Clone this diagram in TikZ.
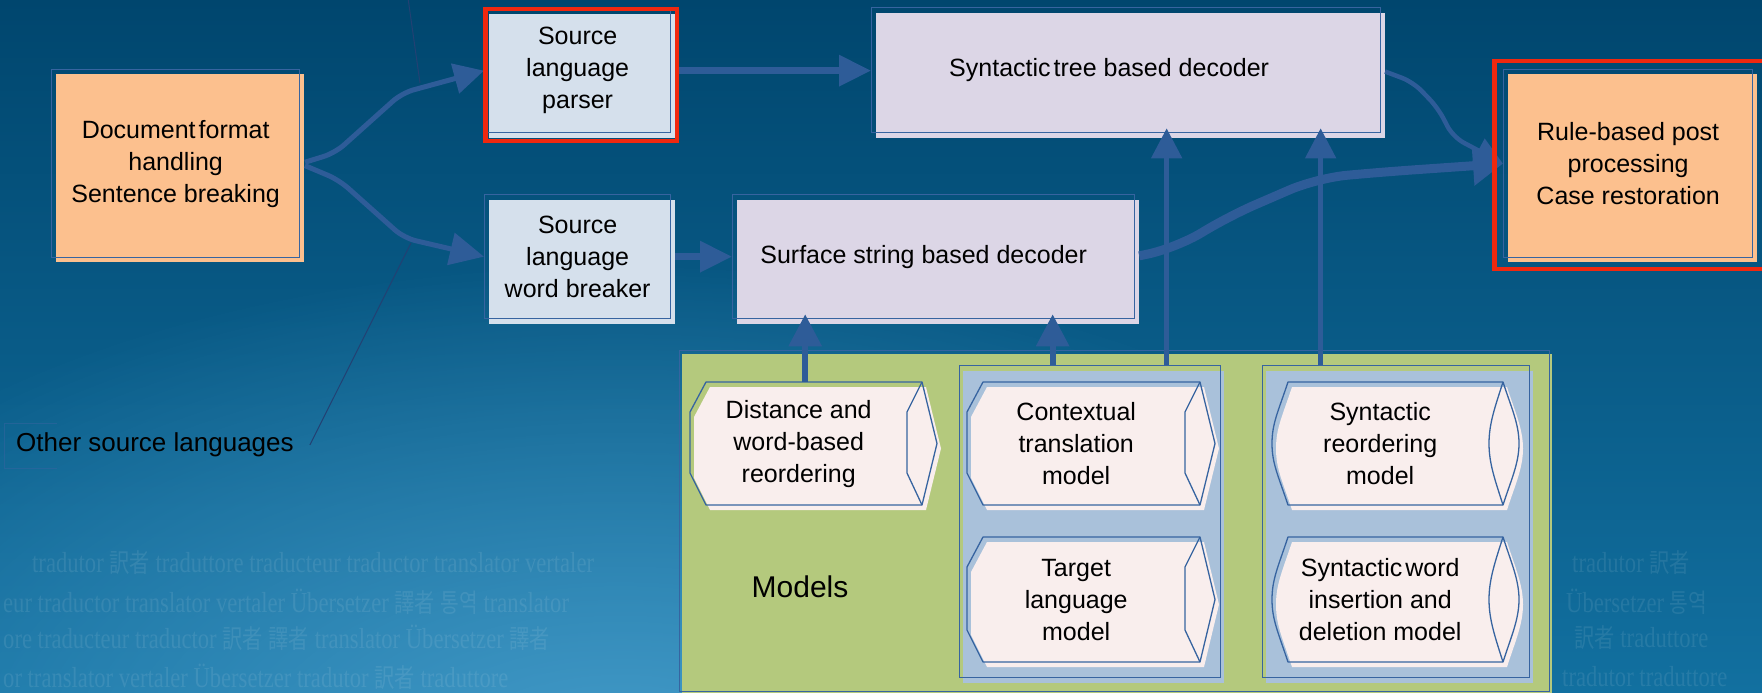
\documentclass[tikz,border=0pt]{standalone}
\usepackage{fontspec}
\setmainfont{Liberation Sans}
\newfontfamily\wmfont{Liberation Serif}
\newfontfamily\cjkfont{Noto Sans CJK JP}
\usetikzlibrary{arrows.meta,shadows,fadings}

\definecolor{bgtop}{RGB}{0,70,110}
\definecolor{bgbot}{RGB}{18,112,160}
\definecolor{glow}{RGB}{80,165,210}
\definecolor{peach}{RGB}{252,192,142}
\definecolor{lblue}{RGB}{213,224,236}
\definecolor{lilac}{RGB}{220,214,230}
\definecolor{pinkw}{RGB}{249,238,237}
\definecolor{mgreen}{RGB}{180,201,125}
\definecolor{sblue}{RGB}{169,193,218}
\definecolor{edge}{RGB}{55,100,160}
\definecolor{redf}{RGB}{240,40,15}
\definecolor{arr}{RGB}{46,92,152}
\definecolor{thinl}{RGB}{35,65,115}

\tikzfading[name=glowfade, inner color=transparent!0, outer color=transparent!100]

\newcommand\bfnt{\fontsize{25}{32}\selectfont}
\newcommand\wmt{\wmfont\fontsize{29}{34}\selectfont}
\newcommand\cj[1]{{\cjkfont\fontsize{26}{34}\selectfont #1}}

\tikzset{
  box/.style={draw=edge, line width=1.3pt, inner sep=0pt, anchor=north west, align=center, font=\bfnt},
  modeltext/.style={inner sep=0pt, anchor=north west, align=center, font=\bfnt},
  modeledge/.style={draw=edge, line width=1.3pt, line join=round},
  flow/.style={draw=arr, line join=round, rounded corners=18pt},
  redframe/.style={draw=redf, line width=4.5pt},
  thinline/.style={draw=thinl, line width=1pt},
  wm/.style={inner sep=0pt, anchor=west, text=white, text opacity=0.09, font=\wmt},
}

% polygon-type model shape: name x1 y1 x2 y2 text
\newcommand\mpoly[6]{%
  \pgfmathsetmacro\mA{#2}\pgfmathsetmacro\mB{#3}\pgfmathsetmacro\mC{#4}\pgfmathsetmacro\mD{#5}\pgfmathsetmacro\mM{(#3+#5)/2}%
  \begin{scope}[shift={(4,5)}]
    \fill[pinkw] (\mA,\mB) -- (\mC,\mB) -- (\mC+15,\mM) -- (\mC,\mD) -- (\mA,\mD) -- (\mA-16,\mD-32) -- (\mA-16,\mB+30) -- cycle;
  \end{scope}
  \draw[modeledge] (\mA,\mB) -- (\mC,\mB) -- (\mC+15,\mM) -- (\mC,\mD) -- (\mA,\mD) -- (\mA-16,\mD-32) -- (\mA-16,\mB+30) -- cycle;
  \draw[modeledge] (\mC,\mB) -- (\mC-15,\mB+30) -- (\mC-15,\mD-32) -- (\mC,\mD);
  \node[modeltext, minimum width=\mC-\mA+1, minimum height=\mD-\mB] (#1) at (\mA-16,\mB) {#6};
}
% curved-type model shape
\newcommand\mcurve[6]{%
  \pgfmathsetmacro\mA{#2}\pgfmathsetmacro\mB{#3}\pgfmathsetmacro\mC{#4}\pgfmathsetmacro\mD{#5}\pgfmathsetmacro\mM{(#3+#5)/2}%
  \begin{scope}[shift={(4,5)}]
    \fill[pinkw] (\mA,\mB) -- (\mC,\mB) .. controls (\mC+8,\mB+25) and (\mC+16,\mM-20) .. (\mC+16,\mM) .. controls (\mC+16,\mM+20) and (\mC+8,\mD-25) .. (\mC,\mD) -- (\mA,\mD) .. controls (\mA-10,\mD-30) and (\mA-16,\mM+20) .. (\mA-16,\mM) .. controls (\mA-16,\mM-20) and (\mA-10,\mB+30) .. (\mA,\mB) -- cycle;
  \end{scope}
  \draw[modeledge] (\mA,\mB) -- (\mC,\mB) .. controls (\mC+8,\mB+25) and (\mC+16,\mM-20) .. (\mC+16,\mM) .. controls (\mC+16,\mM+20) and (\mC+8,\mD-25) .. (\mC,\mD) -- (\mA,\mD) .. controls (\mA-10,\mD-30) and (\mA-16,\mM+20) .. (\mA-16,\mM) .. controls (\mA-16,\mM-20) and (\mA-10,\mB+30) .. (\mA,\mB) -- cycle;
  \draw[modeledge] (\mC,\mB) .. controls (\mC-8,\mB+25) and (\mC-14,\mM-20) .. (\mC-14,\mM) .. controls (\mC-14,\mM+20) and (\mC-8,\mD-25) .. (\mC,\mD);
  \node[modeltext, minimum width=\mC-\mA+1, minimum height=\mD-\mB] (#1) at (\mA-16,\mB) {#6};
}

\begin{document}
\begin{tikzpicture}[x=1pt,y=-1pt]
\useasboundingbox (0,0) rectangle (1762,693);
\clip (0,0) rectangle (1762,693);

% background
\shade[top color=bgtop, bottom color=bgbot] (0,0) rectangle (1762,693);
\fill[glow, opacity=0.8, path fading=glowfade] (620,760) ellipse [x radius=950, y radius=500];

% watermark
\node[wm] (wm1l) at (32,563) {\scalebox{0.78}[1]{tradutor \cj{訳者} traduttore traducteur traductor translator vertaler}};
\node[wm] (wm2l) at (3,602) {\scalebox{0.78}[1]{eur traductor translator vertaler Übersetzer \cj{譯者} \cj{통역} translator}};
\node[wm] (wm3l) at (3,638) {\scalebox{0.78}[1]{ore traducteur traductor \cj{訳者} \cj{譯者} translator Übersetzer \cj{譯者}}};
\node[wm] (wm4l) at (3,677) {\scalebox{0.78}[1]{or translator vertaler Übersetzer tradutor \cj{訳者} traduttore}};
\node[wm] (wm1r) at (1572,563) {\scalebox{0.78}[1]{tradutor \cj{訳者}}};
\node[wm] (wm2r) at (1566,602) {\scalebox{0.78}[1]{Übersetzer \cj{통역}}};
\node[wm] (wm3r) at (1574,638) {\scalebox{0.78}[1]{\cj{訳者} traduttore}};
\node[wm] (wm4r) at (1562,677) {\scalebox{0.78}[1]{tradutor traduttore}};

% models area
\node[box, general shadow={fill=mgreen, shadow xshift=2.5pt, shadow yshift=-3pt}, minimum width=870, minimum height=341] (models) at (679,350) {};
\node[box, general shadow={fill=sblue, shadow xshift=3.5pt, shadow yshift=-5pt}, minimum width=261, minimum height=312] (sub1) at (959,365) {};
\node[box, general shadow={fill=sblue, shadow xshift=3.5pt, shadow yshift=-5pt}, minimum width=267, minimum height=312] (sub2) at (1262,365) {};
\node[inner sep=0pt, font=\fontsize{30}{36}\selectfont] (modelslabel) at (800,587) {Models};

\mpoly{dist}{706}{382}{922}{505}{Distance and\\word-based\\reordering}
\mpoly{ctx}{983}{382}{1200}{505}{Contextual\\translation\\model}
\mpoly{tgt}{983}{537}{1200}{662}{Target\\language\\model}
\mcurve{synr}{1288}{382}{1503}{505}{Syntactic\\reordering\\model}
\mcurve{synw}{1288}{537}{1503}{662}{Syntactic\hspace{0.12em}word\\insertion and\\deletion model}

% top boxes
\node[box, general shadow={fill=peach, shadow xshift=4.5pt, shadow yshift=-4.5pt}, minimum width=248, minimum height=188] (doc) at (51,69) {Document\hspace{0.12em}format\\handling\\Sentence breaking};
\node[box, general shadow={fill=lblue, shadow xshift=4pt, shadow yshift=-5pt}, minimum width=186, minimum height=124] (parser) at (484,8) {Source\\language\\parser};
\node[box, general shadow={fill=lblue, shadow xshift=4pt, shadow yshift=-5pt}, minimum width=186, minimum height=124] (breaker) at (484,194) {Source\\language\\word breaker};
\node[box, general shadow={fill=lilac, shadow xshift=4pt, shadow yshift=-5pt}, minimum width=509, minimum height=125] (tree) at (871,7) {Syntactic\hspace{0.12em}tree based decoder\hspace*{34pt}};
\node[box, general shadow={fill=lilac, shadow xshift=4.5pt, shadow yshift=-5pt}, minimum width=402, minimum height=124] (surf) at (732,194) {Surface string based decoder\hspace*{20pt}};
\node[box, general shadow={fill=peach, shadow xshift=4pt, shadow yshift=-4.5pt}, minimum width=249, minimum height=188] (post) at (1503,69) {Rule-based post\\processing\\Case restoration};

\node[inner sep=0pt, anchor=west, font=\fontsize{26}{32}\selectfont] (other) at (16,445) {Other source languages};
\draw[draw=edge, opacity=0.5, line width=1pt] (57,423) -- (4,423) -- (4,468) -- (57,468);

% connectors
\draw[flow, line width=5pt, rounded corners=12pt, -{Triangle[length=30pt,width=30pt]}, shorten <=5pt] (doc.east) -- (335,153) -- (402,93) -- (parser.west);
\draw[flow, line width=5pt, rounded corners=12pt, -{Triangle[length=34pt,width=32pt]}, shorten <=5pt] (doc.east) -- (339,180) -- (404,238) -- (breaker.west);
\draw[flow, line width=6.5pt, -{Triangle[length=32pt,width=30pt]}, shorten <=4pt] (parser.east) -- (parser.east -| tree.west);
\draw[flow, line width=6.5pt, -{Triangle[length=32pt,width=30pt]}, shorten <=4pt] (breaker.east) -- (breaker.east -| surf.west);
\draw[flow, line width=9pt, rounded corners=30pt, -{Triangle[length=30pt,width=38pt]}, shorten <=4pt] (surf.east) -- (1177,248) -- (1227,217) -- (1317,178) -- (1383,172) -- (post.west);
\draw[flow, line width=4.5pt, rounded corners=12pt, -{Triangle[length=28pt,width=26pt]}, shorten <=4pt] (tree.east) -- (1413,82) -- (1438,108) -- (1453,137) -- (post.west);

\coordinate (da) at ([xshift=6.5pt]dist.north);
\coordinate (c1) at ([xshift=-37.5pt]sub1.north);
\coordinate (c2) at ([xshift=76.5pt]sub1.north);
\coordinate (s1) at ([xshift=-75.5pt]sub2.north);
\draw[flow, line width=6pt, -{Triangle[length=32pt,width=32pt]}, shorten >=-5pt] (da) -- (da |- surf.south);
\draw[flow, line width=6pt, -{Triangle[length=32pt,width=32pt]}, shorten >=-5pt] (c1) -- (c1 |- surf.south);
\draw[flow, line width=5pt, -{Triangle[length=30pt,width=30pt]}, shorten >=-5pt] (c2) -- (c2 |- tree.south);
\draw[flow, line width=5pt, -{Triangle[length=30pt,width=30pt]}, shorten >=-5pt] (s1) -- (s1 |- tree.south);

% red highlight frames
\draw[redframe] (485.25,9.25) rectangle (676.75,140.75);
\draw[redframe] (1494.25,61.25) rectangle (1775,268.75);

% thin lines
\coordinate (t0) at (408,-2);
\coordinate (t1) at (420,83);
\coordinate (o1) at (411,243);
\draw[thinline] (t0) -- (t1);
\draw[thinline] ([xshift=16pt]other.east) -- (o1);
\end{tikzpicture}
\end{document}
